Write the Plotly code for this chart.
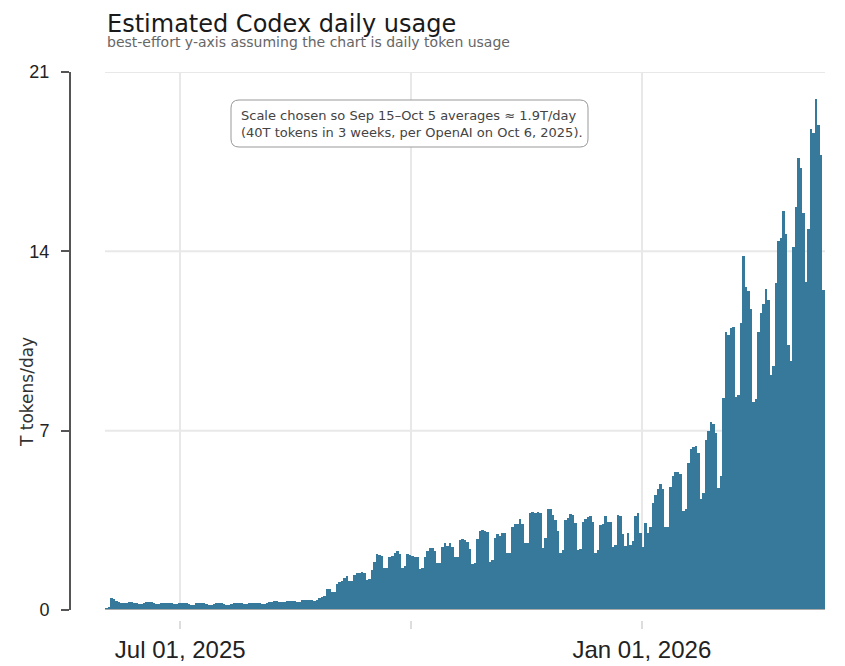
import pandas as pd
import plotly.graph_objects as go

# Daily usage, T tokens/day, one list per month
start_date = "2025-06-01"
end_date = "2026-03-15"

jun_2025 = [0.06, 0.12, 0.46, 0.44, 0.34, 0.31, 0.27, 0.27, 0.29, 0.30,
            0.30, 0.29, 0.28, 0.25, 0.25, 0.29, 0.31, 0.31, 0.30, 0.29,
            0.25, 0.24, 0.27, 0.28, 0.29, 0.28, 0.27, 0.23, 0.22, 0.26]
jul_2025 = [0.27, 0.27, 0.26, 0.22, 0.21, 0.21, 0.26, 0.27, 0.27, 0.26,
            0.25, 0.21, 0.20, 0.25, 0.26, 0.27, 0.26, 0.25, 0.21, 0.21,
            0.25, 0.27, 0.27, 0.26, 0.26, 0.22, 0.22, 0.26, 0.28, 0.28, 0.27]
aug_2025 = [0.27, 0.24, 0.24, 0.29, 0.31, 0.33, 0.35, 0.36, 0.31, 0.30,
            0.33, 0.34, 0.34, 0.35, 0.34, 0.30, 0.30, 0.38, 0.39, 0.40,
            0.40, 0.39, 0.36, 0.40, 0.47, 0.50, 0.53, 0.82, 0.81, 0.70, 0.72]
sep_2025 = [1.01, 1.09, 1.14, 1.24, 1.34, 1.12, 1.15, 1.37, 1.43, 1.46,
            1.50, 1.43, 1.17, 1.20, 1.56, 1.89, 2.17, 2.15, 2.12, 1.63,
            1.65, 2.08, 2.11, 2.21, 2.29, 2.17, 1.63, 1.72, 2.17, 2.15]
oct_2025 = [2.12, 2.08, 2.08, 1.60, 1.63, 2.08, 2.31, 2.43, 2.43, 2.31,
            1.82, 1.82, 2.44, 2.60, 2.50, 2.60, 2.44, 2.05, 2.05, 2.73,
            2.76, 2.73, 2.64, 2.37, 1.78, 1.85, 2.78, 3.09, 3.12, 3.09, 3.03]
nov_2025 = [1.89, 1.95, 2.82, 2.95, 2.89, 3.02, 2.99, 2.21, 2.21, 3.25,
            3.34, 3.34, 3.55, 3.36, 2.60, 2.60, 3.80, 3.84, 3.80, 3.81,
            3.78, 2.43, 2.82, 3.93, 3.95, 3.70, 3.51, 3.08, 2.22, 2.34]
dec_2025 = [3.51, 3.60, 3.73, 3.70, 3.40, 2.34, 2.40, 3.43, 3.55, 3.63,
            3.66, 3.43, 2.22, 2.33, 3.32, 3.35, 3.68, 3.43, 3.43, 2.46,
            2.55, 3.70, 3.66, 2.97, 2.50, 2.99, 2.55, 2.68, 3.66, 3.77, 2.99]
jan_2026 = [2.47, 3.40, 3.00, 3.25, 4.19, 4.49, 4.74, 4.91, 4.74, 3.25,
            3.25, 4.81, 5.24, 5.37, 5.37, 5.31, 3.86, 3.94, 5.75, 6.28,
            6.35, 6.42, 6.12, 4.35, 4.56, 6.63, 6.99, 7.33, 7.27, 6.90, 4.76]
feb_2026 = [5.23, 8.28, 10.85, 10.75, 10.99, 11.03, 8.31, 8.41, 11.21, 13.83,
            12.62, 12.46, 11.75, 8.11, 8.24, 10.85, 11.59, 11.96, 12.53, 12.12,
            9.18, 9.51, 12.77, 14.40, 14.54, 15.57, 14.67, 10.34]
mar_2026 = [9.71, 14.16, 15.72, 17.66, 17.24, 15.50, 12.82, 14.87, 18.76, 18.62,
            19.94, 18.92, 17.75, 12.49]

x_tick_dates = ["2025-07-01", "2025-10-01", "2026-01-01"]
x_tick_labels = ["Jul 01, 2025", "", "Jan 01, 2026"]
y_ticks = [0, 7, 14, 21]

BAR = "#37799b"
GRID = "#e8e8e8"
AXIS = "#555555"

values = (jun_2025 + jul_2025 + aug_2025 + sep_2025 + oct_2025 + nov_2025
          + dec_2025 + jan_2026 + feb_2026 + mar_2026)
dates = pd.date_range(start_date, periods=len(values), freq="D")

fig = go.Figure(
    go.Bar(
        x=dates,
        y=values,
        xperiod=86400000,
        xperiodalignment="middle",
        marker=dict(color=BAR, line=dict(width=0)),
        hovertemplate="%{x|%b %d, %Y}: %{y:.2f}T<extra></extra>",
    )
)

# page body adds an 8px offset, so the figure is 8px smaller than the window;
# helpers take reference-window pixels and return paper fractions
W, H = 754, 548
def px(x):
    return (x - 71) / W
def py(y):
    return (620 - y) / H

x0, x1, y0, y1 = px(231), px(588), py(147), py(100)
rx, ry = 8 / W, 8 / H
box_path = (
    f"M {x0 + rx},{y0} L {x1 - rx},{y0} Q {x1},{y0} {x1},{y0 + ry} "
    f"L {x1},{y1 - ry} Q {x1},{y1} {x1 - rx},{y1} L {x0 + rx},{y1} "
    f"Q {x0},{y1} {x0},{y1 - ry} L {x0},{y0 + ry} Q {x0},{y0} {x0 + rx},{y0} Z"
)

# horizontal gridlines only span the data, not the gap next to the y axis
grid_shapes = [
    dict(type="line", xref="x", yref="y", x0=start_date, x1=end_date, y0=t, y1=t,
         line=dict(color=GRID, width=2), layer="below")
    for t in y_ticks[1:]
]

fig.update_layout(
    width=837,
    height=658,
    margin=dict(l=63, r=20, t=64, b=46),
    plot_bgcolor="white",
    paper_bgcolor="white",
    bargap=0,
    showlegend=False,
    xaxis=dict(
        type="date",
        domain=[0, 1],
        anchor="free",
        position=0,
        range=["2025-05-18 10:44", end_date],
        tickvals=x_tick_dates,
        ticktext=x_tick_labels,
        ticks="outside",
        ticklen=8,
        tickwidth=2,
        tickcolor="#dddddd",
        showgrid=True,
        gridcolor=GRID,
        gridwidth=2,
        showline=False,
        zeroline=False,
        automargin=False,
        tickfont=dict(family="Liberation Sans", size=24, color="#222222"),
    ),
    yaxis=dict(
        domain=[py(610), 1],
        range=[0, 21],
        tickvals=y_ticks,
        ticks="outside",
        ticklen=8,
        tickwidth=2,
        tickcolor=AXIS,
        showline=True,
        linecolor=AXIS,
        linewidth=2,
        showgrid=False,
        zeroline=False,
        automargin=False,
        ticklabelstandoff=8,
        tickfont=dict(family="Liberation Sans", size=18, color="#222222"),
    ),
    shapes=grid_shapes + [
        dict(type="line", xref="x", yref="y", x0=start_date, x1=end_date, y0=0, y1=0,
             line=dict(color="#aaaaaa", width=2), layer="above"),
        dict(type="path", xref="paper", yref="paper", path=box_path,
             line=dict(color="#999999", width=1), fillcolor="white", layer="above"),
    ],
    annotations=[
        dict(text="Estimated Codex daily usage", xref="paper", yref="paper",
             x=px(105), y=py(24), xanchor="left", yanchor="middle", showarrow=False,
             font=dict(family="DejaVu Sans", size=24, color="#1a1a1a")),
        dict(text="best-effort y-axis assuming the chart is daily token usage",
             xref="paper", yref="paper", x=px(105), y=py(42), xanchor="left",
             yanchor="middle", showarrow=False,
             font=dict(family="DejaVu Sans", size=14, color="#666666")),
        dict(text="T tokens/day", xref="paper", yref="paper", x=px(27), y=py(392),
             xanchor="center", yanchor="middle", textangle=-90, showarrow=False,
             font=dict(family="DejaVu Sans", size=17, color="#333333")),
        dict(text="Scale chosen so Sep 15–Oct 5 averages ≈ 1.9T/day<br>"
                  "(40T tokens in 3 weeks, per OpenAI on Oct 6, 2025).",
             xref="paper", yref="paper", x=px(239), y=py(124), xanchor="left",
             yanchor="middle", align="left", showarrow=False,
             font=dict(family="DejaVu Sans", size=13, color="#444444")),
    ],
)

fig.write_html("out.html")
